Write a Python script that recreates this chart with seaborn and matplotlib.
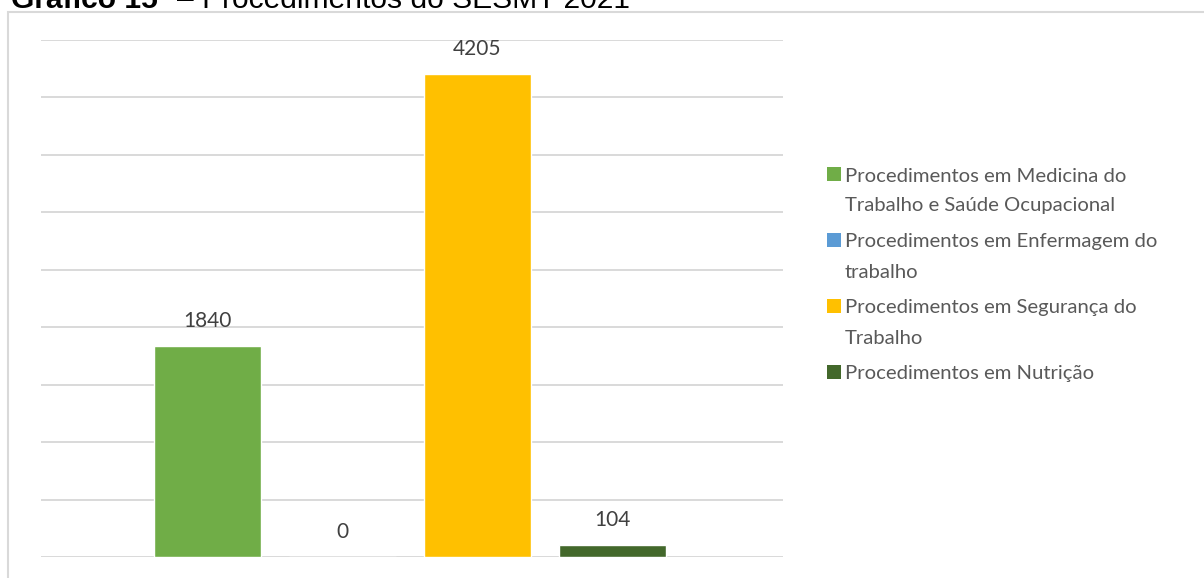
import matplotlib
matplotlib.use("Agg")
import matplotlib.pyplot as plt
import seaborn as sns
import pandas as pd
from matplotlib.patches import Rectangle

# ---- data ----
series = [
    "Procedimentos em Medicina do Trabalho e Saúde Ocupacional",
    "Procedimentos em Enfermagem do trabalho",
    "Procedimentos em Segurança do Trabalho",
    "Procedimentos em Nutrição",
]
legend_lines = [
    ["Procedimentos em Medicina do", "Trabalho e Saúde Ocupacional"],
    ["Procedimentos em Enfermagem do", "trabalho"],
    ["Procedimentos em Segurança do", "Trabalho"],
    ["Procedimentos em Nutrição"],
]
values = [1840, 0, 4205, 104]
colors = ["#70AD47", "#5B9BD5", "#FFC000", "#43682B"]
title_bold = "Gráfico 15"
title_rest = "– Procedimentos do SESMT 2021"

sns.set_theme(style="white")
plt.rcParams["font.family"] = ["Lato", "DejaVu Sans"]

W, H = 1204, 578
fig = plt.figure(figsize=(W / 100, H / 100), dpi=100)
ax = fig.add_axes([41 / W, 21 / H, (783 - 41) / W, (557 - 40) / H])

df = pd.DataFrame({"serie": series, "valor": values})
sns.barplot(data=df, x="serie", y="valor", hue="serie", order=series,
            hue_order=series, palette=colors, width=0.79, dodge=False,
            saturation=1, legend=False, ax=ax)

ax.set_xlim(-1.233, 4.263)
ax.set_ylim(0, 4500)
ax.set_yticks(range(0, 4501, 500))
ax.set_xticks([])
ax.tick_params(left=False, bottom=False, labelleft=False, labelbottom=False)
ax.set_xlabel("")
ax.set_ylabel("")
for s in ax.spines.values():
    s.set_visible(False)
ax.set_axisbelow(True)
ax.yaxis.grid(True, color="#D9D9D9", linewidth=1.4)

for cont in ax.containers:
    ax.bar_label(cont, fmt="%d", padding=10.5, color="#404040", fontsize=15)

# legend (drawn as figure-level patches + text, Excel style: square beside first line)
def px(x, y):
    return x / W, 1 - y / H

y_line = 174.0
for lines, col in zip(legend_lines, colors):
    sx, sy = px(827, y_line + 7)
    fig.add_artist(Rectangle((sx, sy), 14 / W, 14 / H, transform=fig.transFigure,
                             facecolor=col, edgecolor="none"))
    for k, t in enumerate(lines):
        tx, ty = px(845, y_line + 7.5 + 30 * k)
        fig.text(tx, ty, t, fontsize=14.6, color="#595959", va="baseline", ha="left")
    y_line += 30 * len(lines) + 6

# outer chart frame
fig.add_artist(Rectangle((7.5 / W, -0.1), 1.2, 1 - 11.5 / H + 0.1,
                         transform=fig.transFigure, fill=False,
                         edgecolor="#D9D9D9", linewidth=1.5))

# clipped caption at the very top
fig.text(11 / W, 1 - 7.5 / H, title_bold, fontweight="bold",
         family=["Liberation Sans", "DejaVu Sans"], fontsize=21.6,
         va="baseline", color="black")
fig.text(177 / W, 1 - 7.5 / H, title_rest,
         family=["Liberation Sans", "DejaVu Sans"], fontsize=21.6,
         va="baseline", color="black")

fig.savefig("out.png", dpi=100)
